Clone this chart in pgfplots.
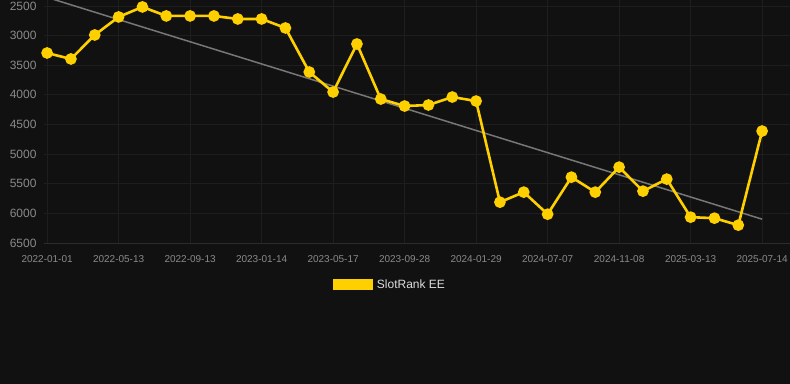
\documentclass[border=0pt]{standalone}
\usepackage{fontspec}
\setmainfont{Liberation Sans}
\usepackage{pgfplots}
\pgfplotsset{compat=1.18}
\definecolor{bg}{HTML}{111111}
\definecolor{gridc}{HTML}{1E1E1E}
\definecolor{basec}{HTML}{2C2C2C}
\definecolor{gold}{HTML}{FFD000}
\definecolor{tickc}{HTML}{8A8A8A}
\definecolor{trend}{HTML}{777777}
\definecolor{legc}{HTML}{DDDDDD}
\begin{document}
\begin{tikzpicture}
\fill[bg] (0,0) rectangle (790bp,-384bp);
\begin{axis}[
  at={(44bp,0bp)}, anchor=north west,
  width=746bp, height=243bp, scale only axis,
  xmin=-0.13, xmax=31.17,
  ymin=2400, ymax=6500, y dir=reverse,
  ytick={2500,3000,3500,4000,4500,5000,5500,6000,6500},
  xtick={0,3,6,9,12,15,18,21,24,27,30},
  xticklabels={2022-01-01,2022-05-13,2022-09-13,2023-01-14,2023-05-17,2023-09-28,2024-01-29,2024-07-07,2024-11-08,2025-03-13,2025-07-14},
  /pgf/number format/assume math mode=true,
  /pgf/number format/1000 sep={},
  yticklabel style={font=\fontsize{12bp}{14bp}\selectfont, text=tickc, xshift=-4bp},
  xticklabel style={font=\fontsize{10bp}{12bp}\selectfont, text=tickc, yshift=-9bp},
  grid=major, major grid style={gridc, line width=0.8bp},
  axis x line*=bottom, axis y line*=left,
  x axis line style={draw=basec, line width=0.8bp, -},
  y axis line style={draw=none},
  major tick length=0pt,
  tick style={draw=none},
  legend style={at={(axis description cs:0.4635,-0.171)}, anchor=center, draw=none, fill=none, text=legc, font=\fontsize{12bp}{14bp}\selectfont, inner sep=0pt},
  legend cell align=left,
]
\addplot[trend, line width=1.5bp, forget plot] coordinates {(0,2356) (30,6098)};
\addplot[gold, line width=2.6bp, mark=*, mark size=4.5bp, mark options={solid, fill=gold, draw=none}, forget plot] coordinates {
(0,3294) (1,3395) (2,2990) (3,2686) (4,2517) (5,2669) (6,2669) (7,2669) (8,2720) (9,2720)
(10,2872) (11,3615) (12,3953) (13,3142) (14,4071) (15,4189) (16,4172) (17,4037) (18,4105)
(19,5811) (20,5642) (21,6014) (22,5389) (23,5642) (24,5220) (25,5625) (26,5422) (27,6064)
(28,6081) (29,6199) (30,4611)};
\addlegendimage{legend image code/.code={\fill[gold] (0bp,-5bp) rectangle (39bp,5bp); \path (42bp,0bp);}}
\addlegendentry{SlotRank EE}
\end{axis}
\pgfresetboundingbox
\useasboundingbox (0,0) rectangle (790bp,-384bp);
\end{tikzpicture}
\end{document}
